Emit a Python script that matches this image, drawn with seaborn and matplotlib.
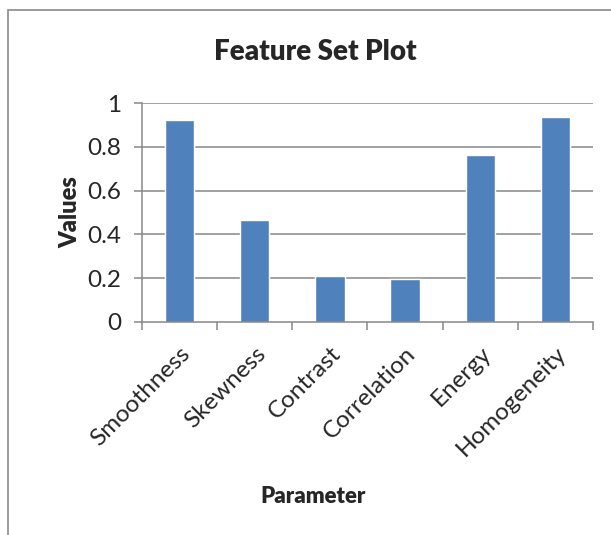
import seaborn as sns
import matplotlib.pyplot as plt
import matplotlib.patches as mpatches
import pandas as pd

# values
parameters = ["Smoothness", "Skewness", "Contrast", "Correlation", "Energy", "Homogeneity"]
values = [0.921, 0.467, 0.21, 0.198, 0.763, 0.935]
y_ticks = [0, 0.2, 0.4, 0.6, 0.8, 1]
y_tick_labels = ["0", "0.2", "0.4", "0.6", "0.8", "1"]

sns.set_style("white")
plt.rcParams['font.family'] = ['Lato', 'DejaVu Sans']

df = pd.DataFrame({"Parameter": parameters, "Values": values})

fig = plt.figure(figsize=(6.11, 5.35), dpi=100)
ax = fig.add_axes([142 / 611, 213 / 535, 451 / 611, 219 / 535])

grey = "#878787"
ax.set_axisbelow(True)
for t in y_ticks[1:]:
    ax.axhline(t, color=grey, linewidth=1.1, zorder=0)

sns.barplot(data=df, x="Parameter", y="Values", color="#4F81BD",
            saturation=1, width=0.39, ax=ax, zorder=2)

ax.set_ylim(0, 1)
ax.set_xlim(-0.5, len(parameters) - 0.5)
ax.set_yticks(y_ticks)
ax.set_yticklabels(y_tick_labels, fontsize=17.5)

# x ticks sit on category boundaries, labels at category centres
ax.set_xticks([i - 0.5 for i in range(len(parameters) + 1)])
ax.set_xticklabels([])
ax.set_xticks(range(len(parameters)), minor=True)
ax.set_xticklabels(parameters, minor=True, rotation=45, ha="right",
                   rotation_mode="anchor", fontsize=17.5)
ax.tick_params(axis="x", which="minor", length=0, pad=15)
ax.tick_params(axis="x", which="major", length=6, width=1.1, color=grey,
               direction="out", bottom=True)
ax.tick_params(axis="y", length=6, width=1.1, color=grey, direction="out",
               left=True, pad=9)

for s in ["top", "right"]:
    ax.spines[s].set_visible(False)
for s in ["left", "bottom"]:
    ax.spines[s].set_color(grey)
    ax.spines[s].set_linewidth(1.1)

ax.set_xlabel("Parameter", fontsize=16, fontweight="heavy")
ax.xaxis.set_label_coords(0.38, -0.75)
ax.set_ylabel("Values", fontsize=17, fontweight="heavy", labelpad=4)
fig.text(315 / 611, 1 - 52 / 535, "Feature Set Plot", fontsize=20,
         fontweight="heavy", ha="center", va="center")

# chart frame, cut at the right and bottom edges like the reference
fig.patches.append(mpatches.Rectangle((8 / 611, -0.1), 1.0, 1.1 - 10 / 535,
                                      transform=fig.transFigure, fill=False,
                                      edgecolor="#8a8a8a", linewidth=1.2))

plt.savefig("out.png", dpi=100)
